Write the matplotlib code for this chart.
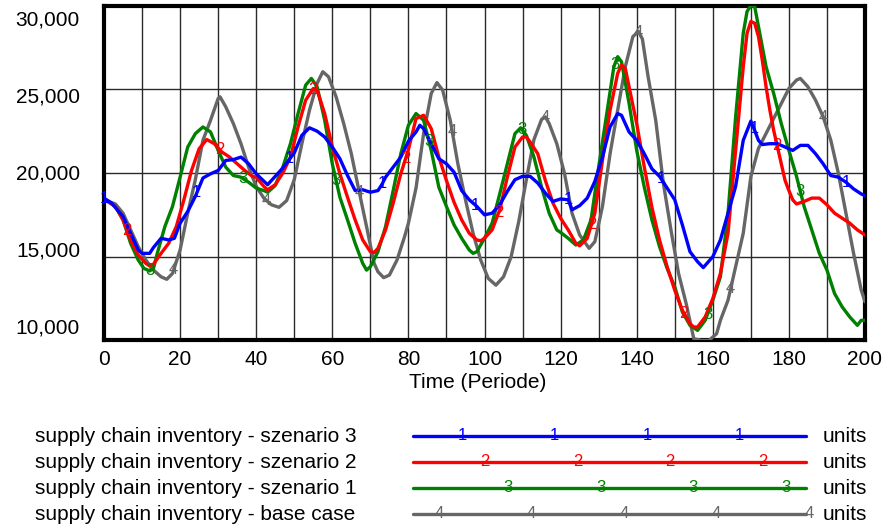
import numpy as np
import matplotlib
matplotlib.use("Agg")
import matplotlib.pyplot as plt

plt.rcParams['font.family'] = ['Liberation Sans', 'DejaVu Sans']

# ---------------------------------------------------------------- data
x_ticks = [0, 20, 40, 60, 80, 100, 120, 140, 160, 180, 200]
y_ticks = [10000, 15000, 20000, 25000, 30000]
x_label = "Time (Periode)"
unit_label = "units"

series_names = [
    "supply chain inventory - szenario 3",
    "supply chain inventory - szenario 2",
    "supply chain inventory - szenario 1",
    "supply chain inventory - base case",
]
series_tags = ["1", "2", "3", "4"]

# szenario 3
t_s3 = [0, 2, 5, 7, 9, 10, 12, 13, 15, 17, 18.5, 20, 22, 24, 26, 28, 30, 32, 34, 36, 38, 40,
        43, 45, 47, 50, 52, 54, 56, 58, 60, 62, 64, 66, 68, 70, 72, 73, 74, 76, 78, 80,
        82, 83, 84, 86, 88, 90, 92, 94, 96, 98, 100, 102, 104, 106, 108, 110, 112, 114, 116, 118, 120,
        122, 123, 125, 127, 129, 131, 133, 135, 136, 138, 140, 142, 144, 146, 148, 150, 152, 154, 156,
        157.5, 160, 162, 164, 166, 168, 170, 171, 172, 173, 175, 177, 179, 181, 183, 185, 187, 189,
        191, 193, 195, 197, 199, 200]
v_s3 = [18500, 18200, 17400, 16400, 15400, 15200, 15200, 15550, 16100, 16000, 16100, 17000, 17700,
        18600, 19700, 19950, 20150, 20750, 20800, 20950, 20550, 19950,
        19300, 19800, 20300, 21200, 22250, 22700, 22500, 22150, 21550, 20850, 19850, 18950, 19000,
        18850, 18950, 19300, 19750, 20350, 20950, 21900,
        22450, 22850, 22650, 21750, 20850, 20550, 20050, 18950, 18400, 18000, 17500, 17600, 18100,
        18900, 19600, 19800, 19800, 19400, 18800, 18300, 18450,
        18400, 17800, 18050, 18500, 19500, 20950, 22750, 23550, 23450, 22450, 21950, 21150, 20250,
        19800, 19100, 18400, 16900, 15300, 14700,
        14350, 15000, 16000, 17600, 19200, 21950, 23100, 22550, 21950, 21700, 21750, 21750, 21550,
        21350, 21650, 21650, 21150, 20550,
        19850, 19750, 19450, 19050, 18750, 18650]

# szenario 2
t_s2 = [0, 3, 5, 7, 9, 11, 12, 13, 15, 17, 19, 21, 23, 25, 27, 29, 31, 33, 35, 37, 39,
        40, 42, 43, 45, 47, 49, 51, 53, 55, 56, 58, 60, 62, 64, 66, 68, 70, 71, 72, 74, 76, 78,
        80, 82, 84, 86, 88, 90, 92, 94, 96, 98, 99, 100, 102, 104, 106, 108, 110, 111, 112, 114,
        116, 118, 120, 122, 124, 125, 127, 129, 131, 133, 135, 136, 137, 138, 140, 142, 144, 146,
        148, 150, 152, 154, 155, 156, 158, 160, 162, 164, 166, 168, 169, 170, 171, 172, 173, 174,
        175, 176, 177, 178, 179, 180, 181, 182, 184, 186, 188, 190, 192, 194, 196, 198, 200]
v_s2 = [18450, 18000, 17200, 16000, 15100, 14600, 14450, 14550, 15200, 15800, 16800, 18400, 20150,
        21450, 22000, 21750, 21250, 20950, 20550, 20150, 19800,
        19750, 19200, 19000, 19300, 20000, 20950, 22750, 24350, 25050, 24950, 23550, 21550, 19950,
        18550, 17200, 16000, 15300, 15250, 15500, 16600, 18200, 19950,
        21400, 23250, 23450, 22650, 20950, 19550, 18250, 17200, 16400, 16000, 15950, 16100, 16600,
        17800, 19750, 21550, 22150, 22150, 21850, 21150,
        19550, 18200, 17300, 16600, 15800, 15650, 16100, 17600, 20750, 23750, 25950, 26450, 26250,
        25150, 22950, 20350, 17950, 16000,
        14400, 13000, 11800, 11000, 10800, 10800, 11400, 12500, 14000, 16400, 21350, 26350, 28350,
        29050, 28950, 28150, 26750, 25150,
        23750, 22550, 21550, 20550, 19550, 18950, 18400, 18150, 18300, 18500, 18500, 18100, 17600,
        17300, 17000, 16600, 16300]

# szenario 1
t_s1 = [0, 3, 5, 7, 9, 10.5, 12, 13, 14, 16, 18, 20, 22, 24, 26, 28, 30, 32, 34, 36, 38, 40,
        42, 43, 45, 47, 49, 51, 53, 54.5, 56, 58, 60, 62, 64, 66, 68, 69, 70, 72, 74, 76, 78, 80,
        82, 84, 86, 88, 90, 92, 94, 96, 97, 98, 100, 102, 104, 106, 108, 109.5, 111, 113, 115, 117,
        119, 120, 122, 124, 126, 128, 130, 132, 134, 135, 136, 138, 140, 142, 144, 146, 148, 150,
        152, 154, 156, 158, 160, 162, 164, 166, 168, 169, 170, 171, 172, 174, 176, 178, 180, 182,
        184, 186, 188, 190, 192, 194, 196, 198, 199, 200]
v_s1 = [18450, 18000, 17200, 15800, 14800, 14300, 14150, 14300, 15200, 16800, 18000, 19750, 21550,
        22350, 22750, 22450, 21350, 20350, 19850, 19750, 19450, 19100,
        18950, 18850, 19250, 20350, 21750, 23550, 25250, 25650, 25150, 23150, 20550, 18550, 17200,
        15800, 14600, 14200, 14400, 15300, 16800, 18950, 21150, 22850,
        23550, 23150, 21350, 19150, 18000, 16900, 16100, 15400, 15200, 15300, 16100, 17000, 18750,
        20550, 22350, 22700, 22250, 20950, 19150, 17600,
        16600, 16450, 16100, 15700, 16000, 17200, 20350, 23350, 26350, 26950, 26650, 24150, 21350,
        19150, 17200, 15600, 14300, 13200,
        11700, 10900, 10600, 11200, 12400, 13800, 17600, 23350, 28350, 29650, 30200, 29950, 28750,
        26350, 24750, 22950, 21350, 19800,
        18000, 16600, 15200, 14200, 12800, 12000, 11400, 10900, 11200, 11200]

# base case
t_s0 = [0, 3, 5, 7, 9, 11, 13, 15, 16.5, 18, 20, 22, 24, 26, 28, 30, 30.5, 32, 34, 36, 38, 40,
        42, 44, 46, 48, 50, 52, 54, 56, 57.5, 59, 61, 63, 65, 67, 69, 71, 72, 73.5, 75, 77, 79,
        80, 82, 84, 86, 87.5, 89, 91, 93, 95, 97, 99, 101, 103, 105, 107, 109, 111, 113, 115, 116,
        117, 118, 119, 121, 123, 125, 127.5, 129, 131, 133, 135, 137, 139, 140.5, 141.5, 143, 145,
        147, 149, 151, 153, 155, 157, 159, 161, 162, 164, 166, 168, 170, 172, 174, 176, 178, 180,
        182, 183, 185, 187, 189, 191, 193, 195, 197, 199, 200]
v_s0 = [18400, 18150, 17600, 16600, 15600, 14800, 14200, 13800, 13650, 14000, 15400, 17600, 19600,
        21950, 23150, 24450, 24550, 23950, 22950, 21750, 20350, 19200,
        18500, 18100, 17950, 18350, 19600, 21750, 23750, 25350, 26050, 25750, 24550, 22950, 21150,
        18950, 16800, 14600, 14100, 13750, 13900, 14800, 16200,
        17000, 19100, 22350, 24750, 25400, 24950, 23150, 20550, 18400, 16400, 14800, 13700, 13300,
        13800, 15000, 17100, 19600, 22000, 23200, 23350,
        22950, 22350, 21750, 20000, 17600, 16300, 15500, 15900, 18000, 21150, 23750, 26350, 28150,
        28450, 28000, 25750, 23150,
        19400, 16600, 14000, 12200, 10100, 9500, 9400, 10400, 11200, 12400, 14400, 16400, 19780,
        21470, 22360, 23260, 24150, 25050,
        25550, 25650, 25150, 24350, 23360, 21970, 19980, 17590, 15200, 13010, 12310]

series_t = [t_s3, t_s2, t_s1, t_s0]
series_v = [v_s3, v_s2, v_s1, v_s0]
colors = ["#0000ff", "#ff0000", "#008000", "#666666"]

# ---------------------------------------------------------------- layout
W, H = 891, 529
fig = plt.figure(figsize=(W / 100, H / 100), dpi=100)
ax = fig.add_axes([104 / W, 1 - 340.4 / H, (865 - 104) / W, (340.4 - 5.6) / H])
ax.set_xlim(x_ticks[0], x_ticks[-1])
ax.set_ylim(y_ticks[0], y_ticks[-1])

grid_col = "#2a2a2a"
ax.set_xticks(x_ticks)
ax.set_xticks(np.arange(x_ticks[0] + 10, x_ticks[-1], 20), minor=True)
ax.set_yticks(y_ticks)
ax.set_yticklabels([])
ax.tick_params(which="both", length=0)
ax.tick_params(axis="x", labelsize=15, pad=7)
ax.grid(True, which="both", color=grid_col, lw=1.0)
ax.set_axisbelow(True)
for s in ax.spines.values():
    s.set_linewidth(3.0)
    s.set_color("black")

# values outside the plotted range are pinned to the frame
lo, hi = y_ticks[0], y_ticks[-1]

# series, base case drawn first
LW = 2.4
for i in [3, 2, 1, 0]:
    ax.plot(series_t[i], np.clip(series_v[i], lo, hi), color=colors[i], lw=LW,
            zorder=3 + (3 - i), solid_joinstyle="round", solid_capstyle="round")

# tag numbers riding on each line
tag_step = 24.4
for i in range(4):
    first = 6.1 * i
    tt = np.arange(first, x_ticks[-1] + 0.01, tag_step)
    yy = np.clip(np.interp(tt, series_t[i], series_v[i]), lo, hi)
    for a, b in zip(tt, yy):
        ax.text(a, b, series_tags[i], color=colors[i], fontsize=12, ha="center",
                va="center", zorder=10)

# overlay in pixel coordinates for the outer texts and the legend
ov = fig.add_axes([0, 0, 1, 1], facecolor="none")
ov.set_xlim(0, W)
ov.set_ylim(H, 0)
ov.axis("off")

for k, v in enumerate(y_ticks):
    ov.text(80, 328.2 - 77 * k, f"{v:,}", fontsize=15, ha="right", va="center")

ov.text(478, 383, x_label, fontsize=15, ha="center", va="center")

for i in range(4):
    y = 436 + 26 * i
    ov.text(35, y, series_names[i], fontsize=15, ha="left", va="center")
    ov.plot([413, 806], [y, y], color=colors[i], lw=LW, solid_capstyle="round")
    start = 439 + 23 * ((i + 1) % 4)
    for xpos in np.arange(start, 811, 92.5):
        ov.text(xpos, y, series_tags[i], color=colors[i], fontsize=12,
                ha="center", va="center")
    ov.text(823, y, unit_label, fontsize=15, ha="left", va="center")

fig.savefig("out.png", dpi=100)
